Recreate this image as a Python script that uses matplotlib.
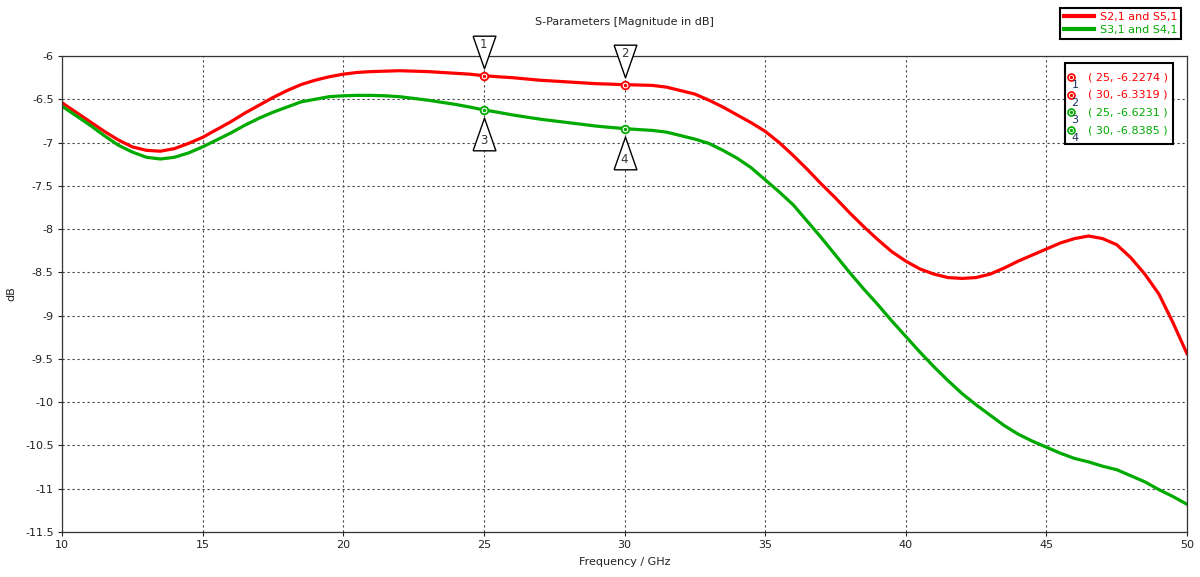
import matplotlib
matplotlib.use('Agg')
import matplotlib.pyplot as plt
import matplotlib.transforms as mtransforms
from matplotlib.lines import Line2D
from matplotlib.patches import Rectangle

# frequency sweep (GHz) and the two traces (dB)
freq = [10, 10.5, 11, 11.5, 12, 12.5, 13, 13.5, 14, 14.5, 15, 15.5, 16, 16.5,
        17, 17.5, 18, 18.5, 19, 19.5, 20, 20.5, 21, 21.5, 22, 22.5, 23, 23.5,
        24, 24.5, 25, 25.5, 26, 26.5, 27, 27.5, 28, 28.5, 29, 29.5, 30, 30.5,
        31, 31.5, 32, 32.5, 33, 33.5, 34, 34.5, 35, 35.5, 36, 36.5, 37, 37.5,
        38, 38.5, 39, 39.5, 40, 40.5, 41, 41.5, 42, 42.5, 43, 43.5, 44, 44.5,
        45, 45.5, 46, 46.5, 47, 47.5, 48, 48.5, 49, 49.5, 50]
s21_s51 = [-6.54, -6.65, -6.76, -6.87, -6.97, -7.05, -7.09, -7.10, -7.07, -7.01,
           -6.94, -6.85, -6.76, -6.66, -6.57, -6.48, -6.40, -6.33, -6.28, -6.24,
           -6.21, -6.19, -6.18, -6.175, -6.17, -6.175, -6.18, -6.19, -6.20, -6.21,
           -6.2274, -6.24, -6.25, -6.265, -6.28, -6.29, -6.30, -6.31, -6.32, -6.325,
           -6.3319, -6.335, -6.34, -6.36, -6.40, -6.44, -6.51, -6.59, -6.68, -6.77,
           -6.87, -7.00, -7.15, -7.31, -7.48, -7.64, -7.81, -7.97, -8.12, -8.26,
           -8.37, -8.46, -8.52, -8.56, -8.57, -8.56, -8.52, -8.45, -8.37, -8.30,
           -8.23, -8.16, -8.11, -8.08, -8.11, -8.18, -8.33, -8.52, -8.75, -9.08,
           -9.44]
s31_s41 = [-6.58, -6.69, -6.80, -6.92, -7.03, -7.11, -7.17, -7.19, -7.17, -7.12,
           -7.05, -6.97, -6.89, -6.80, -6.72, -6.65, -6.59, -6.53, -6.50, -6.47,
           -6.46, -6.455, -6.455, -6.46, -6.47, -6.49, -6.51, -6.535, -6.56, -6.59,
           -6.6231, -6.65, -6.68, -6.705, -6.73, -6.75, -6.77, -6.79, -6.81, -6.825,
           -6.8385, -6.85, -6.86, -6.88, -6.92, -6.96, -7.01, -7.09, -7.18, -7.29,
           -7.43, -7.57, -7.72, -7.91, -8.10, -8.30, -8.50, -8.69, -8.87, -9.06,
           -9.24, -9.42, -9.59, -9.75, -9.90, -10.03, -10.15, -10.27, -10.37, -10.45,
           -10.52, -10.59, -10.65, -10.69, -10.74, -10.78, -10.85, -10.92, -11.01, -11.09,
           -11.18]
series_labels = ['S2,1 and S5,1', 'S3,1 and S4,1']

# markers placed on the curves
marker_ids = ['1', '2', '3', '4']
marker_freq = [25, 30, 25, 30]
marker_db = [-6.2274, -6.3319, -6.6231, -6.8385]
marker_series = [0, 0, 1, 1]

x_ticks = [10, 15, 20, 25, 30, 35, 40, 45, 50]
y_ticks = [-6, -6.5, -7, -7.5, -8, -8.5, -9, -9.5, -10, -10.5, -11, -11.5]

RED = '#FF0000'
GREEN = '#00AA00'
colors = [RED, GREEN]
FS = 8

W, H = 1200, 577


def fx(x):
    return x / W


def fy(y):
    return 1 - y / H


fig = plt.figure(figsize=(12, 5.77), dpi=100)
ax = fig.add_axes([fx(62), fy(532), 1125 / W, 476 / H])

ax.plot(freq, s21_s51, color=RED, lw=2.3, solid_joinstyle='round')
ax.plot(freq, s31_s41, color=GREEN, lw=2.3, solid_joinstyle='round')

ax.set_xlim(10, 50)
ax.set_ylim(-11.5, -6)
ax.set_xticks(x_ticks)
ax.set_xticklabels([str(v) for v in x_ticks])
ax.set_yticks(y_ticks)
ax.set_yticklabels([('%g' % v) for v in y_ticks])
ax.tick_params(direction='out', length=3, width=0.8, pad=3, labelsize=FS,
               colors='#222222')
ax.grid(True, color='#444444', linestyle=(0, (2, 2.5)), lw=0.8)
for sp in ax.spines.values():
    sp.set_color('#333333')
    sp.set_linewidth(0.9)

ax.set_title('S-Parameters [Magnitude in dB]', fontsize=FS, pad=22, color='#222222')
ax.set_xlabel('Frequency / GHz', fontsize=FS, labelpad=5, color='#222222')
ax.set_ylabel('dB', fontsize=FS, labelpad=6, color='#222222')

# marker points and triangle flags
tri_down = [(-0.7, 1), (0.7, 1), (0, -1), (-0.7, 1)]
tri_up = [(-0.7, -1), (0.7, -1), (0, 1), (-0.7, -1)]
for mid, mf, md, ms in zip(marker_ids, marker_freq, marker_db, marker_series):
    c = colors[ms]
    ax.plot(mf, md, marker='o', ms=5.5, mfc='white', mec=c, mew=1.3, zorder=5)
    ax.plot(mf, md, marker='o', ms=1.5, color=c, zorder=6)
    sign = 1 if ms == 0 else -1
    tr_tri = mtransforms.offset_copy(ax.transData, fig=fig, x=0, y=sign * 24,
                                     units='dots')
    tr_txt = mtransforms.offset_copy(ax.transData, fig=fig, x=0, y=sign * 31,
                                     units='dots')
    ax.plot(mf, md, marker=tri_down if ms == 0 else tri_up, ms=23.5,
            mfc='white', mec='black', mew=1.0, transform=tr_tri,
            clip_on=False, zorder=7)
    ax.text(mf, md, mid, transform=tr_txt, ha='center', va='center',
            fontsize=FS + 0.5, color='#333333', zorder=8, clip_on=False)

# marker value box
fig.add_artist(Rectangle((fx(1065), fy(144)), 108 / W, 81 / H,
                         transform=fig.transFigure, facecolor='white',
                         edgecolor='black', lw=1.5, zorder=9))
for i, (mid, mf, md, ms) in enumerate(zip(marker_ids, marker_freq, marker_db,
                                          marker_series)):
    c = colors[ms]
    yy = 77 + 17.7 * i
    fig.add_artist(Line2D([fx(1071)], [fy(yy)], marker='o', ms=5, mfc='white',
                          mec=c, mew=1.2, transform=fig.transFigure, zorder=10))
    fig.add_artist(Line2D([fx(1071)], [fy(yy)], marker='o', ms=1.4, color=c,
                          transform=fig.transFigure, zorder=11))
    fig.text(fx(1075), fy(yy + 8), mid, fontsize=FS, color='#1F2F5F',
             ha='center', va='center', zorder=11)
    fig.text(fx(1088), fy(yy), '( %g, %.4f )' % (mf, md), fontsize=FS,
             color=c, ha='left', va='center', zorder=11)

# series legend above the plot
handles = [Line2D([], [], color=c, lw=3) for c in colors]
leg = fig.legend(handles, series_labels, loc='upper right',
                 bbox_to_anchor=(fx(1181), fy(8)), frameon=True, fancybox=False,
                 edgecolor='black', framealpha=1, fontsize=FS, handlelength=2.7,
                 handletextpad=0.5, borderpad=0.35, labelspacing=0.25,
                 borderaxespad=0)
leg.get_frame().set_linewidth(1.5)
for t, c in zip(leg.get_texts(), colors):
    t.set_color(c)

fig.savefig('out.png', dpi=100)
